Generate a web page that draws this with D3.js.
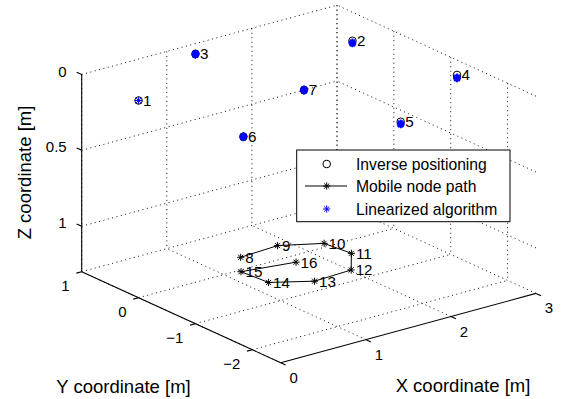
<!DOCTYPE html>
<html>
<head>
<meta charset="utf-8">
<script src="https://cdn.jsdelivr.net/npm/d3@7"></script>
<style>
  html, body { margin: 0; padding: 0; background: #fff; }
  svg text { font-family: "Liberation Sans", Arial, Helvetica, sans-serif; fill: #000; }
</style>
</head>
<body>
<svg id="chart" width="562" height="399"></svg>
<script>
// ---- data -------------------------------------------------------------
// Anchor estimates from inverse positioning (circles)
const anchorIds = [1, 2, 3, 4, 5, 6, 7];
const invX = [0.00, 2.54, 1.17, 2.76, 1.59, 0.19, 1.39];
const invY = [0.00, 0.04, 0.75, -1.47, -2.23, -1.56, -0.83];
const invZ = [0.00, 0.00, 0.00, 0.00, 0.00, 0.00, 0.00];

// Anchor estimates from the linearized algorithm (blue asterisks)
const linAnchor = [1, 2, 2, 2, 3, 3, 3, 4, 4, 4, 5, 5, 5, 6, 6, 6, 7, 7, 7];
const linX = [0.00, 2.535, 2.545, 2.54, 1.165, 1.175, 1.17, 2.755, 2.765, 2.76, 1.585, 1.595, 1.59, 0.185, 0.195, 0.19, 1.385, 1.395, 1.39];
const linY = [0.00, 0.035, 0.045, 0.04, 0.745, 0.755, 0.75, -1.475, -1.465, -1.47, -2.235, -2.225, -2.23, -1.565, -1.555, -1.56, -0.835, -0.825, -0.83];
const linZ = [0.00, 0.015, 0.02, 0.01, 0.005, 0.00, -0.005, 0.02, 0.025, 0.015, 0.015, 0.02, 0.01, 0.005, 0.00, -0.005, 0.005, 0.00, -0.005];

// Mobile node path
const pathIds = [8, 9, 10, 11, 12, 13, 14, 15, 16];
const pathX = [1.16, 1.62, 2.00, 2.04, 1.77, 1.32, 0.96, 0.93, 1.49];
const pathY = [-0.06, -0.02, -0.27, -0.69, -1.09, -1.12, -0.85, -0.41, -0.54];
const pathZ = [1.20, 1.20, 1.20, 1.20, 1.20, 1.20, 1.20, 1.20, 1.20];

// Axes
const xDomain = [0, 3], yDomain = [-2.5, 1], zDomain = [0, 1.3];
const xTicks = [0, 1, 2, 3];
const yTicks = [-2, -1, 0, 1];
const zTicks = [0, 0.5, 1];
const xTickLabels = ["0", "1", "2", "3"];
const yTickLabels = ["\u22122", "\u22121", "0", "1"];
const zTickLabels = ["0", "0.5", "1"];
const legendLabels = ["Inverse positioning", "Mobile node path", "Linearized algorithm"];

// ---- projection -------------------------------------------------------
const svg = d3.select("#chart");
const xs = d3.scaleLinear().domain(xDomain).range([0, 1]);
const ys = d3.scaleLinear().domain(yDomain).range([0, 1]);
const zs = d3.scaleLinear().domain([zDomain[1], zDomain[0]]).range([0, 1]); // reversed z direction

// screen position of (xmin, ymin, zmax) and the screen vectors spanned by each axis
const origin = [280.7, 362.7];
const vx = [255.3, -69.3];
const vy = [-199.0, -91.0];
const vz = [0.0, -197.2];

function proj(x, y, z) {
  const a = xs(x), b = ys(y), c = zs(z);
  return [origin[0] + a * vx[0] + b * vy[0] + c * vz[0],
          origin[1] + a * vx[1] + b * vy[1] + c * vz[1]];
}
function unit(v) { const l = Math.hypot(v[0], v[1]); return [v[0] / l, v[1] / l]; }

const [x0, x1] = xDomain, [y0, y1] = yDomain, [z0, z1] = zDomain;

// ---- grid (back walls and floor) -------------------------------------
const gridSegs = [];
zTicks.forEach(z => { gridSegs.push([[x0, y1, z], [x1, y1, z]]); gridSegs.push([[x1, y0, z], [x1, y1, z]]); });
xTicks.forEach(x => { gridSegs.push([[x, y1, z0], [x, y1, z1]]); gridSegs.push([[x, y0, z1], [x, y1, z1]]); });
yTicks.forEach(y => { gridSegs.push([[x1, y, z0], [x1, y, z1]]); gridSegs.push([[x0, y, z1], [x1, y, z1]]); });

const line = d3.line();
svg.append("g").selectAll("path").data(gridSegs).join("path")
  .attr("d", s => line(s.map(p => proj(...p))))
  .attr("fill", "none")
  .attr("stroke", "#111")
  .attr("stroke-width", 1)
  .attr("stroke-dasharray", "1,3.5");

// ---- axes -------------------------------------------------------------
const axG = svg.append("g").attr("stroke", "#000").attr("stroke-width", 1.1).attr("fill", "none");
[[[x0, y0, z1], [x1, y0, z1]],
 [[x0, y0, z1], [x0, y1, z1]],
 [[x0, y1, z0], [x0, y1, z1]]].forEach(s => axG.append("path").attr("d", line(s.map(p => proj(...p)))));

const tickLen = 5.5;
const dirPlusY = unit(vy), dirMinusX = unit([-vx[0], -vx[1]]), dirMinusY = unit([-vy[0], -vy[1]]);

function drawTicks(points, dir) {
  points.forEach(p => {
    axG.append("path").attr("d", line([p, [p[0] + dir[0] * tickLen, p[1] + dir[1] * tickLen]]));
  });
}
const xTickPts = xTicks.map(x => proj(x, y0, z1));
const yTickPts = yTicks.map(y => proj(x0, y, z1));
const zTickPts = zTicks.map(z => proj(x0, y1, z));
drawTicks(xTickPts, dirMinusY);
drawTicks(yTickPts, dirMinusX);
drawTicks(zTickPts, dirPlusY);

const tickFont = 15;
svg.append("g").selectAll("text").data(xTickPts).join("text")
  .attr("x", p => p[0] + 13).attr("y", p => p[1] + 14.5)
  .attr("text-anchor", "middle").attr("dominant-baseline", "central")
  .attr("font-size", tickFont).text((p, i) => xTickLabels[i]);
svg.append("g").selectAll("text").data(yTickPts).join("text")
  .attr("x", p => p[0] - 12).attr("y", p => p[1] + 13.5)
  .attr("text-anchor", "end").attr("dominant-baseline", "central")
  .attr("font-size", tickFont).text((p, i) => yTickLabels[i]);
svg.append("g").selectAll("text").data(zTickPts).join("text")
  .attr("x", p => p[0] - 15).attr("y", p => p[1] - 3.5)
  .attr("text-anchor", "end").attr("dominant-baseline", "central")
  .attr("font-size", tickFont).text((p, i) => zTickLabels[i]);

// axis titles
const labelFont = 18.5;
svg.append("text").attr("x", 463).attr("y", 385).attr("text-anchor", "middle")
  .attr("dominant-baseline", "central").attr("font-size", labelFont).text("X coordinate [m]");
svg.append("text").attr("x", 123.5).attr("y", 386).attr("text-anchor", "middle")
  .attr("dominant-baseline", "central").attr("font-size", labelFont).text("Y coordinate [m]");
svg.append("text").attr("transform", "translate(24.5,172.5) rotate(-90)").attr("text-anchor", "middle")
  .attr("dominant-baseline", "central").attr("font-size", labelFont).text("Z coordinate [m]");

// ---- markers ----------------------------------------------------------
function asterisk(r) {
  const d = r * Math.SQRT1_2;
  return `M${-r},0L${r},0M0,${-r}L0,${r}M${-d},${-d}L${d},${d}M${-d},${d}L${d},${-d}`;
}

// mobile node path
const pathPts = pathIds.map((id, i) => proj(pathX[i], pathY[i], pathZ[i]));
svg.append("path").attr("d", line(pathPts)).attr("fill", "none")
  .attr("stroke", "#000").attr("stroke-width", 1);
svg.append("g").selectAll("path").data(pathPts).join("path")
  .attr("transform", p => `translate(${p[0]},${p[1]})`)
  .attr("d", asterisk(3.6)).attr("stroke", "#000").attr("stroke-width", 1).attr("fill", "none");

// inverse positioning circles
const invPts = anchorIds.map((id, i) => proj(invX[i], invY[i], invZ[i]));
svg.append("g").selectAll("circle").data(invPts).join("circle")
  .attr("cx", p => p[0]).attr("cy", p => p[1]).attr("r", 3.8)
  .attr("fill", "none").attr("stroke", "#000").attr("stroke-width", 1);

// linearized algorithm estimates
const linPts = linAnchor.map((id, i) => proj(linX[i], linY[i], linZ[i]));
svg.append("g").selectAll("path").data(linPts).join("path")
  .attr("transform", p => `translate(${p[0]},${p[1]})`)
  .attr("d", asterisk(3.7)).attr("stroke", "#0000ff")
  .attr("stroke-width", (d, i) => linAnchor[i] === 1 ? 1 : 1.8).attr("fill", "none");

// node numbers
const numFont = 15.2;
svg.append("g").selectAll("text").data(anchorIds).join("text")
  .attr("x", (id, i) => invPts[i][0] + 4.5).attr("y", (id, i) => invPts[i][1])
  .attr("dominant-baseline", "central").attr("font-size", numFont).text(id => id);
svg.append("g").selectAll("text").data(pathIds).join("text")
  .attr("x", (id, i) => pathPts[i][0] + 4.5).attr("y", (id, i) => pathPts[i][1])
  .attr("dominant-baseline", "central").attr("font-size", numFont).text(id => id);

// ---- legend -----------------------------------------------------------
const lg = svg.append("g");
lg.append("rect").attr("x", 296.7).attr("y", 150).attr("width", 213.3).attr("height", 71.7)
  .attr("fill", "#fff").attr("stroke", "#000").attr("stroke-width", 1);
const rowY = [164, 186, 209];
const mx = 326.7;
lg.append("circle").attr("cx", mx).attr("cy", rowY[0]).attr("r", 3.8)
  .attr("fill", "none").attr("stroke", "#000").attr("stroke-width", 1);
lg.append("path").attr("d", line([[305, rowY[1]], [347, rowY[1]]]))
  .attr("stroke", "#000").attr("stroke-width", 1);
lg.append("path").attr("transform", `translate(${mx},${rowY[1]})`).attr("d", asterisk(3.6))
  .attr("stroke", "#000").attr("stroke-width", 1).attr("fill", "none");
lg.append("path").attr("transform", `translate(${mx},${rowY[2]})`).attr("d", asterisk(3.6))
  .attr("stroke", "#0000ff").attr("stroke-width", 1).attr("fill", "none");
lg.selectAll("text").data(legendLabels).join("text")
  .attr("x", 356).attr("y", (d, i) => rowY[i]).attr("dominant-baseline", "central")
  .attr("font-size", 15.7).text(d => d);
</script>
</body>
</html>
